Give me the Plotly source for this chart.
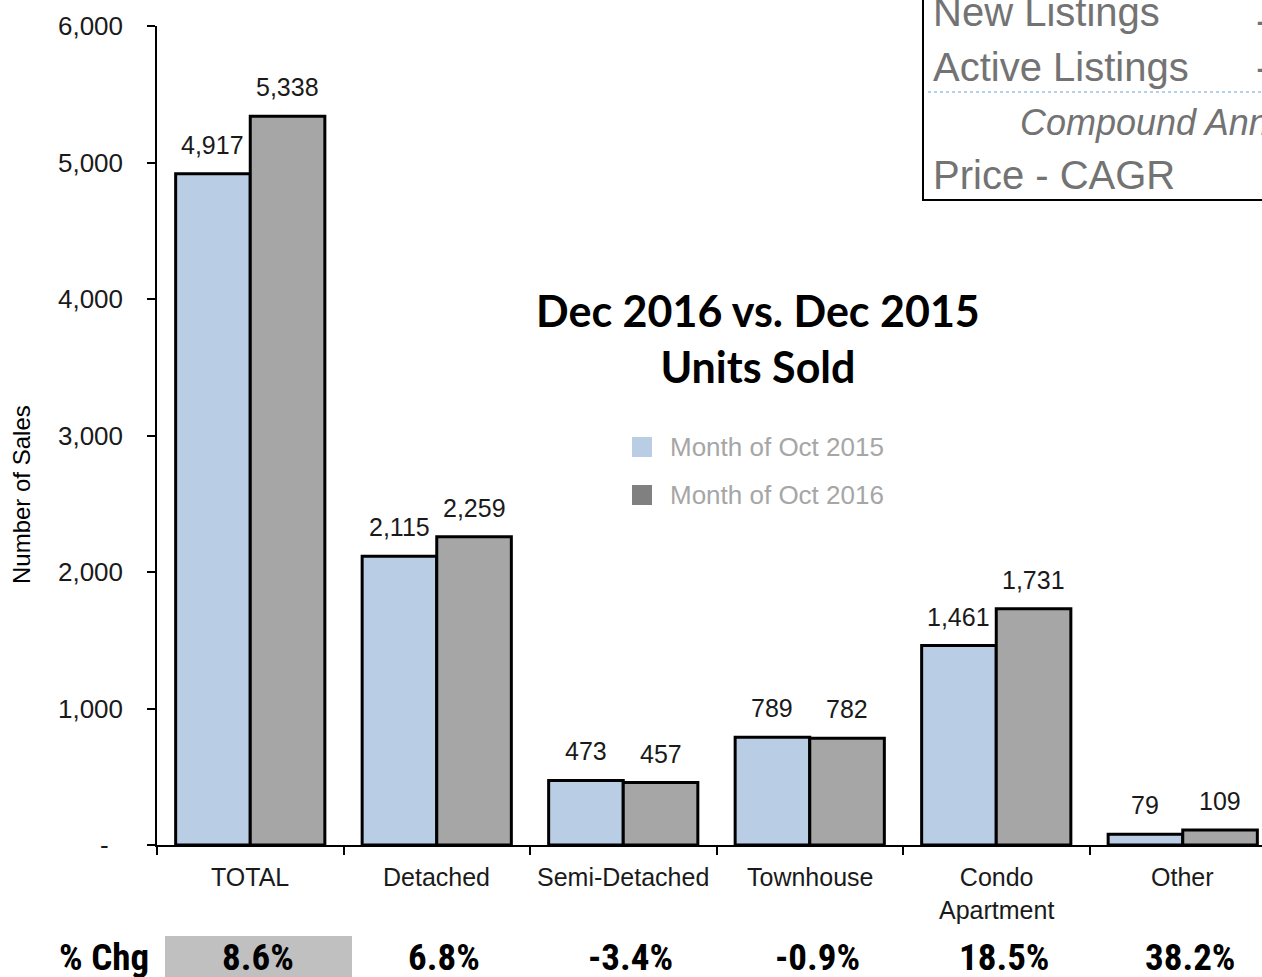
import plotly.graph_objects as go

categories = ["TOTAL", "Detached", "Semi-Detached", "Townhouse", "Condo<br>Apartment", "Other"]
sales_2015 = [4917, 2115, 473, 789, 1461, 79]
sales_2016 = [5338, 2259, 457, 782, 1731, 109]
pct_change = ["8.6%", "6.8%", "-3.4%", "-0.9%", "18.5%", "38.2%"]
y_tickvals = [0, 1000, 2000, 3000, 4000, 5000, 6000]
y_ticktext = ["-\u00a0\u00a0", "1,000", "2,000", "3,000", "4,000", "5,000", "6,000"]
series_names = ["Month of Oct 2015", "Month of Oct 2016"]
box_rows = ["New Listings", "Active Listings", "Compound Annual Growth Rate", "Price - CAGR"]

W, H = 1262, 977
L, T, B = 157, 26, 845  # plot area pixel edges


def py(p):
    return (B - p) / (B - T)


def px(p):
    return (p - L) / (W - L)


BLUE = "#b9cde4"
GRAY = "#a6a6a6"
FONT = "Liberation Sans, Arial, sans-serif"
NARROW = "Liberation Sans Narrow, Arial Narrow, Roboto Condensed, Liberation Sans, sans-serif"
idx = list(range(len(categories)))

fig = go.Figure()
fig.add_trace(go.Bar(x=idx, y=sales_2015, name=series_names[0],
                     marker=dict(color=BLUE, line=dict(color="black", width=3))))
fig.add_trace(go.Bar(x=idx, y=sales_2016, name=series_names[1],
                     marker=dict(color=GRAY, line=dict(color="black", width=3))))

ann = []
# data labels
for i, (a, b) in enumerate(zip(sales_2015, sales_2016)):
    for xo, v in ((-0.2, a), (0.2, b)):
        ann.append(dict(x=i + xo, y=v, xref="x", yref="y", text=f"{v:,}",
                        showarrow=False, xanchor="center", yanchor="bottom", yshift=13,
                        font=dict(family=FONT, size=25, color="#1a1a1a")))
# category labels
for i, c in enumerate(categories):
    ann.append(dict(x=i, y=py(861), xref="x", yref="paper", text=c, showarrow=False,
                    xanchor="center", yanchor="top",
                    font=dict(family=FONT, size=25, color="#1a1a1a")))
# % change row
ann.append(dict(x=px(104), y=py(957), xref="paper", yref="paper", text="<b>% Chg</b>",
                showarrow=False, xanchor="center", yanchor="middle",
                font=dict(family=NARROW, size=37, color="black")))
for i, p in enumerate(pct_change):
    ann.append(dict(x=i + 0.04, y=py(957), xref="x", yref="paper", text=f"<b>{p}</b>",
                    showarrow=False, xanchor="center", yanchor="middle",
                    font=dict(family=NARROW, size=37, color="black")))
# title
ann.append(dict(x=px(758), y=py(338), xref="paper", yref="paper",
                text="<b>Dec 2016 vs. Dec 2015<br>Units Sold</b>", showarrow=False,
                xanchor="center", yanchor="middle",
                font=dict(family="Lato, Open Sans, sans-serif", size=43, color="black")))
# legend
shapes = []
for name, col, yc in zip(series_names, [BLUE, "#808080"], [447, 495]):
    shapes.append(dict(type="rect", xref="paper", yref="paper", x0=px(632), x1=px(652),
                       y0=py(yc + 10), y1=py(yc - 10), fillcolor=col, line=dict(width=0)))
    ann.append(dict(x=px(668), y=py(yc), xref="paper", yref="paper", text=name,
                    showarrow=False, xanchor="left", yanchor="middle",
                    font=dict(family=FONT, size=26, color="#a6a6a6")))
# y axis title
ann.append(dict(x=px(22), y=py(495), xref="paper", yref="paper", text="Number of Sales",
                showarrow=False, textangle=-90, xanchor="center", yanchor="middle",
                font=dict(family=FONT, size=24, color="black")))

# gray box under first % change
shapes.append(dict(type="rect", xref="paper", yref="paper", x0=px(165), x1=px(352),
                   y0=py(990), y1=py(936), fillcolor="#c0c0c0", line=dict(width=0), layer="below"))

# top-right partial table
shapes.append(dict(type="rect", xref="paper", yref="paper", x0=px(923), x1=px(1320),
                   y0=py(200), y1=py(-20), fillcolor="white",
                   line=dict(color="black", width=2), layer="above"))
shapes.append(dict(type="line", xref="paper", yref="paper", x0=px(928), x1=px(1262),
                   y0=py(92), y1=py(92), line=dict(color="#9dc3e6", width=1.5, dash="dot"),
                   layer="above"))
BOXC = "#737373"
for text, xl, yc, it in ((box_rows[0], 931, 12, False), (box_rows[1], 931, 67, False),
                         (box_rows[2], 1018, 122, True), (box_rows[3], 931, 175, False)):
    ann.append(dict(x=px(xl), y=py(yc), xref="paper", yref="paper",
                    text=f"<i>{text}</i>" if it else text, showarrow=False,
                    xanchor="left", yanchor="middle",
                    font=dict(family=FONT, size=36 if it else 40, color=BOXC)))
for yc in (20, 67):
    ann.append(dict(x=px(1254), y=py(yc), xref="paper", yref="paper", text="-",
                    showarrow=False, xanchor="left", yanchor="middle",
                    font=dict(family=FONT, size=40, color=BOXC)))

fig.update_layout(
    width=W, height=H,
    margin=dict(l=L, r=0, t=T, b=H - B, pad=0),
    paper_bgcolor="white", plot_bgcolor="white",
    barmode="group", bargap=0.2, bargroupgap=0,
    showlegend=False,
    annotations=ann, shapes=shapes,
    xaxis=dict(range=[-0.5, -0.5 + (W - L) / 186.5],
               tickvals=[i - 0.5 for i in range(len(categories) + 1)],
               showticklabels=False, ticks="outside", ticklen=8, tickwidth=1.5, tickcolor="black",
               showline=True, linecolor="black", linewidth=1.5, showgrid=False, zeroline=False),
    yaxis=dict(range=[0, 6000], tickvals=y_tickvals, ticktext=y_ticktext,
               ticks="outside", ticklen=8, tickwidth=1.5, tickcolor="black",
               showline=True, linecolor="black", linewidth=1.5, showgrid=False, zeroline=False,
               ticklabelstandoff=19, tickfont=dict(family=FONT, size=26, color="#1a1a1a")),
)

fig.write_html("out.html", config={"displayModeBar": False},
               post_script="document.body.style.margin='0';document.body.style.overflow='hidden';")
